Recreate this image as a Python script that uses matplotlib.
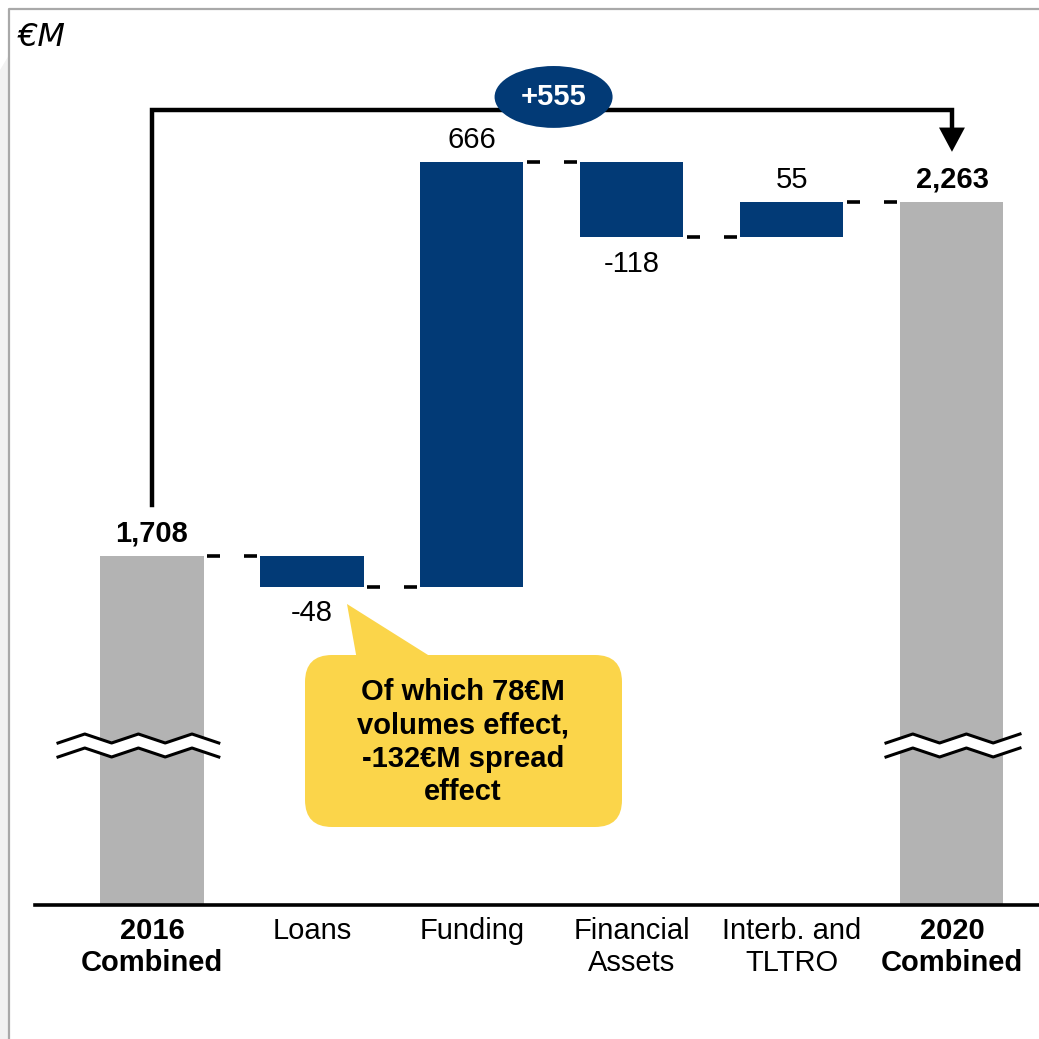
import matplotlib.pyplot as plt
from matplotlib.patches import Ellipse, FancyBboxPatch, Polygon
import numpy as np

# data
categories = ["2016\nCombined", "Loans", "Funding", "Financial\nAssets", "Interb. and\nTLTRO", "2020\nCombined"]
bold_cats = [True, False, False, False, False, True]
start_value = 1708
deltas = [-48, 666, -118, 55]
end_value = 2263
value_labels = ["1,708", "-48", "666", "-118", "55", "2,263"]
total_change = "+555"
note_text = "Of which 78€M\nvolumes effect,\n-132€M spread\neffect"
unit_label = "€M"

BLUE = "#023A76"
GRAY = "#B3B3B3"
YELLOW = "#FBD54A"

plt.rcParams['font.family'] = ['Liberation Sans', 'DejaVu Sans']

W = 1039
fig = plt.figure(figsize=(W / 100, W / 100), dpi=100)
ax = fig.add_axes([0, 0, 1, 1])
ax.set_xlim(-0.95, 5.544)
ax.set_ylim(951, 2580)
ax.axis('off')


def px(x, y):
    # pixel position -> axes fraction (figure is square)
    return (x / W, 1 - y / W)


base = 1161
width = 0.644
fs = 21

# running totals
cum = [start_value]
for d in deltas:
    cum.append(cum[-1] + d)

# total bars
ax.bar(0, start_value - base, bottom=base, width=width, color=GRAY, zorder=2)
ax.bar(5, end_value - base, bottom=base, width=width, color=GRAY, zorder=2)

# delta bars
for i, d in enumerate(deltas):
    lo = min(cum[i], cum[i + 1])
    ax.bar(i + 1, abs(d), bottom=lo, width=width, color=BLUE, zorder=2)

# connectors "_  _"
levels = cum
for i in range(5):
    lv = levels[i]
    x0 = i + width / 2
    x1 = i + 1 - width / 2
    ax.plot([x0 + 0.02, x0 + 0.105], [lv, lv], color="black", lw=2.6, solid_capstyle="butt")
    ax.plot([x1 - 0.105, x1 - 0.02], [lv, lv], color="black", lw=2.6, solid_capstyle="butt")

# value labels
tops = [start_value] + [max(cum[i], cum[i + 1]) for i in range(4)] + [end_value]
bots = [base] + [min(cum[i], cum[i + 1]) for i in range(4)] + [base]
signs = [1] + [1 if d > 0 else -1 for d in deltas] + [1]
for i, lab in enumerate(value_labels):
    bold = i in (0, 5)
    if signs[i] > 0:
        ax.annotate(lab, (i, tops[i]), xytext=(0, 16), textcoords="offset points",
                    ha="center", va="center", fontsize=fs,
                    fontweight="bold" if bold else "normal")
    else:
        ax.annotate(lab, (i, bots[i]), xytext=(0, -19), textcoords="offset points",
                    ha="center", va="center", fontsize=fs)

# baseline
ax.axhline(base, xmin=35 / W, xmax=1, color="black", lw=2.6, zorder=3)

# category labels
for i, (c, b) in enumerate(zip(categories, bold_cats)):
    ax.text(i, px(0, 917)[1], c, transform=ax.get_xaxis_transform(),
            ha="center", va="top", fontsize=fs, linespacing=1.2,
            fontweight="bold" if b else "normal")

# break marks
def zigzag(x0, n, start_low):
    xs = x0 + np.arange(n + 1) * 26.8
    ys = []
    for k in range(n + 1):
        low = (k % 2 == 0) == start_low
        ys.append(743 if low else 734)
    return xs, np.array(ys)


for x0, n, sl in [(58, 6, True), (886, 5, True)]:
    xs, ys = zigzag(x0, n, sl)
    top = [px(a, b) for a, b in zip(xs, ys)]
    bot = [px(a, b + 14) for a, b in zip(xs, ys)]
    ax.add_patch(Polygon(top + bot[::-1], closed=True, facecolor="white",
                         edgecolor="none", transform=ax.transAxes, zorder=4))
    for pts in (top, bot):
        arr = np.array(pts)
        ax.plot(arr[:, 0], arr[:, 1], color="black", lw=2.2, transform=ax.transAxes, zorder=5)

# total change bracket
top_y = max(cum) + 82
head_len = 38
tip = end_value + 79
ax.plot([0, 0, 5, 5], [start_value + 80, top_y, top_y, tip + head_len],
        color="black", lw=3.2, solid_joinstyle="miter", zorder=3)
ax.add_patch(Polygon([(5 - 0.081, tip + head_len), (5 + 0.081, tip + head_len), (5, tip)],
                     closed=True, facecolor="black", edgecolor="none", zorder=3))
ax.add_patch(Ellipse((2.51, top_y + 20), 0.7375, 97, facecolor=BLUE, edgecolor="none", zorder=4))
ax.text(2.51, top_y + 20, total_change, ha="center", va="center", color="white",
        fontsize=fs, fontweight="bold", zorder=5)

# callout
x0, y0 = px(305, 827)
x1, y1 = px(622, 655)
ax.add_patch(FancyBboxPatch((x0, y0), x1 - x0, y1 - y0,
                            boxstyle="round,pad=0,rounding_size=0.026",
                            facecolor=YELLOW, edgecolor="none", transform=ax.transAxes, zorder=3))
ax.add_patch(Polygon([px(357, 660), px(436, 660), px(347, 604)], closed=True,
                     facecolor=YELLOW, edgecolor="none", transform=ax.transAxes, zorder=3))
cx, cy = px(463, 742)
ax.text(cx, cy, note_text, transform=ax.transAxes, ha="center", va="center",
        fontsize=fs, fontweight="bold", linespacing=1.23, zorder=4)

# unit label
ux, uy = px(18, 38)
ax.text(ux, uy, unit_label, transform=ax.transAxes, ha="left", va="center",
        fontsize=23, fontstyle="italic", family="DejaVu Sans")

# frame and faint shadow
ax.add_patch(Polygon([px(0, 70), px(9, 55), px(9, W), px(0, W)], closed=True,
                     facecolor="#F2F2F2", edgecolor="none", transform=ax.transAxes, zorder=0))
fr = np.array([px(9, W), px(9, 9), px(W, 9)])
ax.plot(fr[:, 0], fr[:, 1], color="#A9A9A9", lw=1.6, transform=ax.transAxes, zorder=1)

fig.savefig("out.png", dpi=100)
